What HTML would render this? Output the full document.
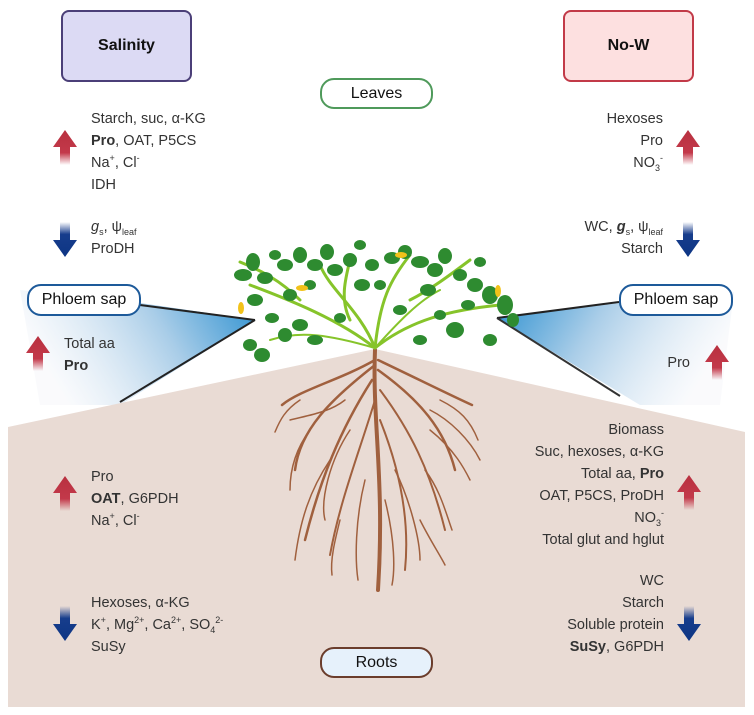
<!DOCTYPE html>
<html><head><meta charset="utf-8"><style>
body{margin:0;width:754px;height:715px;background:#fff;overflow:hidden;position:relative;font-family:"Liberation Sans",sans-serif;color:#333}
.t{position:absolute;font-size:14.5px;line-height:22px;white-space:nowrap}
.r{text-align:right}
sup,sub{font-size:9px;line-height:0}
.box{position:absolute;border-radius:8px;display:flex;align-items:center;justify-content:center;font-weight:bold;font-size:16px;color:#111}
.pill{position:absolute;border-radius:14px;display:flex;align-items:center;justify-content:center;font-size:16px;color:#111;background:#fff}
svg{position:absolute;left:0;top:0}
</style></head><body>
<svg width="754" height="715">
<defs>
<linearGradient id="up" x1="0" y1="1" x2="0" y2="0"><stop offset="0" stop-color="#c3394a" stop-opacity="0"/><stop offset="0.35" stop-color="#c3394a"/><stop offset="1" stop-color="#b8303f"/></linearGradient>
<linearGradient id="dn" x1="0" y1="0" x2="0" y2="1"><stop offset="0" stop-color="#1b3f8f" stop-opacity="0"/><stop offset="0.35" stop-color="#173d8c"/><stop offset="1" stop-color="#0d3584"/></linearGradient>
<linearGradient id="cl" x1="1" y1="0" x2="0" y2="0.3"><stop offset="0" stop-color="#2a8fd0"/><stop offset="0.45" stop-color="#a9cde8"/><stop offset="1" stop-color="#f4f6fa" stop-opacity="0.5"/></linearGradient>
<linearGradient id="cr" x1="0" y1="0" x2="1" y2="0.3"><stop offset="0" stop-color="#2a8fd0"/><stop offset="0.45" stop-color="#a9cde8"/><stop offset="1" stop-color="#f4f6fa" stop-opacity="0.5"/></linearGradient>
<g id="ua"><path d="M0 -17 L12 0 L5 0 L5 18 L-5 18 L-5 0 L-12 0Z" fill="url(#up)"/></g>
<g id="da"><path d="M0 17 L12 0 L5 0 L5 -18 L-5 -18 L-5 0 L-12 0Z" fill="url(#dn)"/></g>
</defs>
<polygon points="20,290 140,303 255,320 120,405 40,405" fill="url(#cl)"/>
<polygon points="734,292 619,303 497,318 640,405 720,405" fill="url(#cr)"/>
<polygon points="8,427 375,349 745,432 745,707 8,707" fill="#e9dbd4"/>
<line x1="140" y1="305" x2="255" y2="320" stroke="#222" stroke-width="2"/>
<line x1="255" y1="320" x2="120" y2="402" stroke="#222" stroke-width="2"/>
<line x1="619" y1="302" x2="497" y2="318" stroke="#222" stroke-width="2"/>
<line x1="497" y1="318" x2="620" y2="396" stroke="#333" stroke-width="2"/>
<g stroke="#a0603e" fill="none" stroke-linecap="round">
<path d="M375 350 C372 420 385 480 378 590" stroke-width="4"/>
<path d="M375 360 C340 380 300 390 282 405" stroke-width="2.5"/>
<path d="M375 365 C330 400 300 430 295 470" stroke-width="2.5"/>
<path d="M372 380 C340 430 320 480 305 540" stroke-width="2.5"/>
<path d="M375 400 C360 450 340 500 330 555" stroke-width="2"/>
<path d="M378 360 C420 380 450 395 472 405" stroke-width="2.5"/>
<path d="M378 370 C420 400 445 430 455 470" stroke-width="2.5"/>
<path d="M380 390 C410 430 430 470 445 530" stroke-width="2"/>
<path d="M380 420 C400 470 410 520 405 570" stroke-width="2"/>
<path d="M300 400 C285 410 280 420 275 432" stroke-width="1.5"/>
<path d="M310 430 C295 450 290 470 290 490" stroke-width="1.5"/>
<path d="M330 460 C310 490 300 520 295 560" stroke-width="1.5"/>
<path d="M350 430 C330 460 320 500 325 520" stroke-width="1.5"/>
<path d="M440 400 C460 410 470 420 478 440" stroke-width="1.5"/>
<path d="M430 430 C455 450 465 470 470 480" stroke-width="1.5"/>
<path d="M425 470 C440 490 445 510 452 530" stroke-width="1.5"/>
<path d="M395 470 C410 500 420 540 420 560" stroke-width="1.5"/>
<path d="M365 480 C355 520 355 560 358 580" stroke-width="1.5"/>
<path d="M385 500 C395 540 395 570 392 585" stroke-width="1.5"/>
<path d="M290 420 C310 415 330 412 345 400" stroke-width="1.5"/>
<path d="M430 410 C450 420 470 440 480 460" stroke-width="1.5"/>
<path d="M340 520 C335 540 330 560 332 575" stroke-width="1.5"/>
<path d="M420 520 C430 540 440 555 445 565" stroke-width="1.5"/>
</g>
<g stroke="#86c42a" fill="none" stroke-width="3" stroke-linecap="round">
<path d="M375 348 C340 320 290 300 250 285"/>
<path d="M375 348 C360 310 330 290 320 265"/>
<path d="M375 348 C380 300 390 280 410 255"/>
<path d="M375 348 C410 320 450 310 500 305"/>
<path d="M300 300 C280 280 260 270 240 262"/>
<path d="M410 300 C430 290 450 275 470 260"/>
<path d="M350 320 C340 300 345 280 350 260"/>
<path d="M375 348 C400 320 420 300 440 290" stroke-width="2"/>
<path d="M375 348 C330 335 300 330 270 340" stroke-width="2"/>
</g>
<g fill="#2e8b30">
<ellipse cx="243" cy="275" rx="9" ry="6"/><ellipse cx="253" cy="262" rx="7" ry="9"/><ellipse cx="265" cy="278" rx="8" ry="6"/>
<ellipse cx="255" cy="300" rx="8" ry="6"/><ellipse cx="250" cy="345" rx="7" ry="6"/><ellipse cx="262" cy="355" rx="8" ry="7"/>
<ellipse cx="285" cy="265" rx="8" ry="6"/><ellipse cx="300" cy="255" rx="7" ry="8"/><ellipse cx="290" cy="295" rx="7" ry="6"/>
<ellipse cx="315" cy="265" rx="8" ry="6"/><ellipse cx="327" cy="252" rx="7" ry="8"/><ellipse cx="335" cy="270" rx="8" ry="6"/>
<ellipse cx="350" cy="260" rx="7" ry="7"/><ellipse cx="362" cy="285" rx="8" ry="6"/><ellipse cx="300" cy="325" rx="8" ry="6"/>
<ellipse cx="285" cy="335" rx="7" ry="7"/><ellipse cx="315" cy="340" rx="8" ry="5"/><ellipse cx="340" cy="318" rx="6" ry="5"/>
<ellipse cx="392" cy="258" rx="8" ry="6"/><ellipse cx="405" cy="252" rx="7" ry="7"/><ellipse cx="420" cy="262" rx="9" ry="6"/>
<ellipse cx="435" cy="270" rx="8" ry="7"/><ellipse cx="445" cy="256" rx="7" ry="8"/><ellipse cx="428" cy="290" rx="8" ry="6"/>
<ellipse cx="460" cy="275" rx="7" ry="6"/><ellipse cx="475" cy="285" rx="8" ry="7"/><ellipse cx="490" cy="295" rx="8" ry="9"/>
<ellipse cx="505" cy="305" rx="8" ry="10"/><ellipse cx="455" cy="330" rx="9" ry="8"/><ellipse cx="490" cy="340" rx="7" ry="6"/>
<ellipse cx="420" cy="340" rx="7" ry="5"/><ellipse cx="400" cy="310" rx="7" ry="5"/><ellipse cx="372" cy="265" rx="7" ry="6"/>
<ellipse cx="272" cy="318" rx="7" ry="5"/><ellipse cx="310" cy="285" rx="6" ry="5"/><ellipse cx="380" cy="285" rx="6" ry="5"/>
<ellipse cx="468" cy="305" rx="7" ry="5"/><ellipse cx="513" cy="320" rx="6" ry="7"/><ellipse cx="440" cy="315" rx="6" ry="5"/>
<ellipse cx="275" cy="255" rx="6" ry="5"/><ellipse cx="480" cy="262" rx="6" ry="5"/><ellipse cx="360" cy="245" rx="6" ry="5"/>
</g>
<g fill="#f2c21a"><ellipse cx="241" cy="308" rx="3" ry="6"/><ellipse cx="302" cy="288" rx="6" ry="3"/><ellipse cx="401" cy="255" rx="6" ry="3"/><ellipse cx="498" cy="291" rx="3" ry="6"/></g>
<use href="#ua" x="65" y="147"/>
<use href="#da" x="65" y="240"/>
<use href="#ua" x="38" y="353"/>
<use href="#ua" x="688" y="147"/>
<use href="#da" x="688" y="240"/>
<use href="#ua" x="717" y="362"/>
<use href="#ua" x="65" y="493"/>
<use href="#da" x="65" y="624"/>
<use href="#ua" x="689" y="492"/>
<use href="#da" x="689" y="624"/>
</svg>
<div class="box" style="left:61px;top:10px;width:127px;height:68px;background:#dcdaf4;border:2px solid #4b3f78">Salinity</div>
<div class="box" style="left:563px;top:10px;width:127px;height:68px;background:#fde0e0;border:2px solid #c23a48">No-W</div>
<div class="pill" style="left:320px;top:78px;width:109px;height:27px;border:2px solid #4f9a5b">Leaves</div>
<div class="pill" style="left:320px;top:647px;width:109px;height:27px;border:2px solid #6b3d2c;background:#e6f1fb">Roots</div>
<div class="pill" style="left:27px;top:284px;width:110px;height:28px;border:2px solid #1d5a9a">Phloem sap</div>
<div class="pill" style="left:619px;top:284px;width:110px;height:28px;border:2px solid #1d5a9a">Phloem sap</div>

<div class="t" style="left:91px;top:108px">Starch, suc, α-KG<br><b>Pro</b>, OAT, P5CS<br>Na<sup>+</sup>, Cl<sup>-</sup><br>IDH</div>
<div class="t" style="left:91px;top:216px"><i>g</i><sub>s</sub>, ψ<sub>leaf</sub><br>ProDH</div>
<div class="t" style="left:64px;top:333px">Total aa<br><b>Pro</b></div>
<div class="t r" style="right:91px;top:108px">Hexoses<br>Pro<br>NO<sub>3</sub><sup>-</sup></div>
<div class="t r" style="right:91px;top:216px">WC, <b><i>g</i></b><sub>s</sub>, ψ<sub>leaf</sub><br>Starch</div>
<div class="t r" style="right:64px;top:352px">Pro</div>
<div class="t" style="left:91px;top:466px">Pro<br><b>OAT</b>, G6PDH<br>Na<sup>+</sup>, Cl<sup>-</sup></div>
<div class="t" style="left:91px;top:592px">Hexoses, α-KG<br>K<sup>+</sup>, Mg<sup>2+</sup>, Ca<sup>2+</sup>, SO<sub>4</sub><sup>2-</sup><br>SuSy</div>
<div class="t r" style="right:90px;top:419px">Biomass<br>Suc, hexoses, α-KG<br>Total aa, <b>Pro</b><br>OAT, P5CS, ProDH<br>NO<sub>3</sub><sup>-</sup><br>Total glut and hglut</div>
<div class="t r" style="right:90px;top:570px">WC<br>Starch<br>Soluble protein<br><b>SuSy</b>, G6PDH</div>
</body></html>
